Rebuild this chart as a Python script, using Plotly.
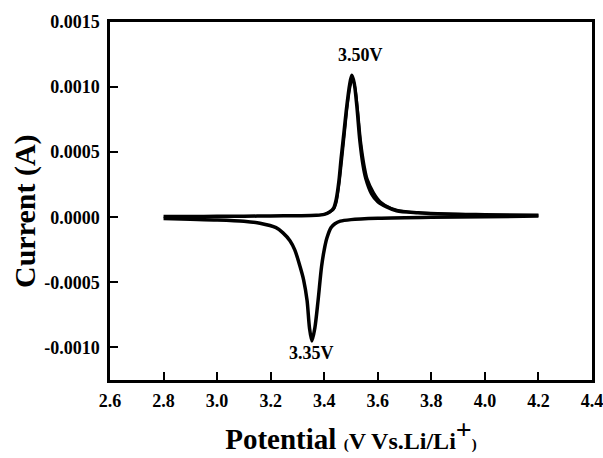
import plotly.graph_objects as go

# Anodic sweep (cycle 1), potential in V, current in A
anodic_v1 = [2.80, 2.90, 3.00, 3.10, 3.20, 3.30, 3.37, 3.40, 3.42, 3.435, 3.445, 3.455, 3.463, 3.472, 3.484,
             3.495, 3.503, 3.512, 3.522, 3.533, 3.545, 3.555, 3.577, 3.60, 3.633, 3.67, 3.75, 3.85, 4.00, 4.20]
anodic_i1 = [0.000005, 0.000006, 0.000007, 0.000008, 0.00001, 0.000012, 0.000015, 0.000022, 0.00004, 0.00007, 0.00014,
             0.00028, 0.00045, 0.00062, 0.00085, 0.00102, 0.00109, 0.00103, 0.00085, 0.00059, 0.00040,
             0.00030, 0.00018, 0.00012, 0.00008, 0.00005, 0.000035, 0.000025, 0.00002, 0.000015]
# Anodic sweep (cycle 2)
anodic_v2 = [3.37, 3.40, 3.42, 3.435, 3.445, 3.455, 3.465, 3.475, 3.487, 3.498, 3.506, 3.515, 3.525,
             3.537, 3.55, 3.562, 3.585, 3.61, 3.65, 3.70, 3.80, 4.00]
anodic_i2 = [0.000015, 0.000022, 0.00004, 0.00006, 0.00011, 0.00024, 0.00042, 0.00062, 0.00086, 0.00101, 0.00106,
             0.00100, 0.00083, 0.00058, 0.00040, 0.00029, 0.00019, 0.00012, 0.00007, 0.000045, 0.00003, 0.00002]
# Cathodic sweep
cathodic_v = [4.20, 4.00, 3.80, 3.60, 3.50, 3.46, 3.44, 3.425, 3.41, 3.40, 3.39, 3.377, 3.365, 3.354,
              3.345, 3.336, 3.323, 3.31, 3.29, 3.272, 3.246, 3.22, 3.16, 3.10, 3.00, 2.90, 2.80]
cathodic_i = [0.00001, 0.000004, 0.0, -0.000008, -0.000018, -0.00003, -0.00005, -0.00008, -0.00016,
              -0.00025, -0.00038, -0.00064, -0.00085, -0.00095, -0.00085, -0.00064, -0.00048, -0.00038,
              -0.00025, -0.00018, -0.00012, -0.00008, -0.000046, -0.00003, -0.00002, -0.000015, -0.00001]

x_ticks = [2.6, 2.8, 3.0, 3.2, 3.4, 3.6, 3.8, 4.0, 4.2, 4.4]
x_ticktext = ["2.6", "2.8", "3.0", "3.2", "3.4", "3.6", "3.8", "4.0", "4.2", "4.4"]
y_ticks = [0.0015, 0.0010, 0.0005, 0.0, -0.0005, -0.0010]
y_ticktext = ["0.0015", "0.0010", "0.0005", "0.0000", "-0.0005", "-0.0010"]

peak_labels = [("3.50V", 3.534, 0.00125), ("3.35V", 3.354, -0.00104)]

FONT = "Liberation Serif"
line_style = dict(color="black", width=3.5, shape="spline", smoothing=0.8)

fig = go.Figure()
fig.add_trace(go.Scatter(x=anodic_v1, y=anodic_i1, mode="lines", line=line_style, showlegend=False))
fig.add_trace(go.Scatter(x=anodic_v2, y=anodic_i2, mode="lines", line=dict(line_style, width=2.5), showlegend=False))
fig.add_trace(go.Scatter(x=cathodic_v, y=cathodic_i, mode="lines", line=line_style, showlegend=False))

for txt, xv, yv in peak_labels:
    fig.add_annotation(x=xv, y=yv, text=txt, showarrow=False,
                       font=dict(family=FONT, size=18, color="black", weight="bold"))

# y-axis title placed as a rotated annotation (centred slightly below plot centre, as in reference)
fig.add_annotation(x=0, xref="paper", y=0.472, yref="paper", xshift=-85, textangle=-90,
                   text="Current (A)", showarrow=False, xanchor="center", yanchor="middle",
                   font=dict(family=FONT, size=30, color="black", weight="bold"))

axis_common = dict(showline=True, linecolor="black", linewidth=2.5, mirror=True,
                   ticks="inside", ticklen=8, tickwidth=2, tickcolor="black",
                   showgrid=False, zeroline=False, automargin=False, ticklabeloverflow="allow",
                   tickfont=dict(family=FONT, size=18, color="black", weight="bold"))

xtitle = ("Potential <span style='font-size:15px'>(</span><span style='font-size:24px'>V Vs.Li/Li"
          "<sup><span style='font-size:28px'>+</span></sup></span><span style='font-size:15px'>)</span>")

fig.update_xaxes(range=[2.6, 4.4], tickvals=x_ticks, ticktext=x_ticktext, ticklabelstandoff=3,
                 title=dict(text=xtitle,
                            font=dict(family=FONT, size=29, color="black", weight="bold"), standoff=19),
                 **axis_common)
fig.update_yaxes(range=[-0.00125, 0.0015], tickvals=y_ticks, ticktext=y_ticktext, ticklabelstandoff=4,
                 **axis_common)

fig.update_layout(width=603, height=458, margin=dict(l=110, r=11, t=22, b=78),
                  plot_bgcolor="white", paper_bgcolor="white")

fig.write_html("out.html")
